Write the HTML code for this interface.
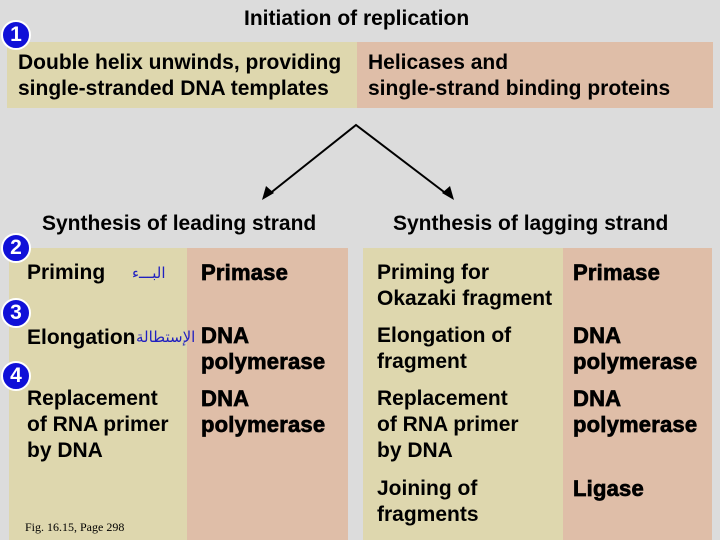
<!DOCTYPE html>
<html><head><style>
body{margin:0;width:720px;height:540px;background:#dcdcdc;position:relative;overflow:hidden;font-family:"Liberation Sans",sans-serif;}
div{position:absolute;}
.t{background:#ded7ae;}
.p{background:#dfbea8;}
.h{font-weight:bold;font-size:21px;color:#000;line-height:26px;white-space:nowrap;}
.b{font-weight:bold;font-size:22px;line-height:26px;white-space:nowrap;-webkit-text-stroke:0.7px #000;letter-spacing:0.2px;}
.n{width:26px;height:26px;border-radius:50%;background:#1010d8;border:2px solid #fff;color:#fff;font-weight:bold;font-size:21px;line-height:26px;text-align:center;box-sizing:content-box;}
.ar{color:#2020c0;font-size:15px;font-family:"DejaVu Sans",sans-serif;}
</style></head><body>
<div class="h" style="left:244px;top:6px;">Initiation of replication</div>
<div class="t" style="left:7px;top:42px;width:350px;height:66px;"></div>
<div class="p" style="left:357px;top:42px;width:356px;height:66px;"></div>
<div class="h" style="left:18px;top:50px;">Double helix unwinds, providing<br>single-stranded DNA templates</div>
<div class="h" style="left:368px;top:50px;">Helicases and<br>single-strand binding proteins</div>
<div class="n" style="left:1px;top:20px;">1</div>
<svg style="position:absolute;left:0;top:0" width="720" height="540">
<polyline points="268,195 356,125 448,195" fill="none" stroke="#000" stroke-width="2"/>
<polygon points="262,200 266,186 274,193" fill="#000"/>
<polygon points="454,200 442,193 450,186" fill="#000"/>
</svg>
<div class="h" style="left:42px;top:211px;">Synthesis of leading strand</div>
<div class="h" style="left:393px;top:211px;">Synthesis of lagging strand</div>
<div class="t" style="left:9px;top:248px;width:178px;height:292px;"></div>
<div class="p" style="left:187px;top:248px;width:161px;height:292px;"></div>
<div class="t" style="left:363px;top:248px;width:200px;height:292px;"></div>
<div class="p" style="left:563px;top:248px;width:149px;height:292px;"></div>
<div class="n" style="left:1px;top:233px;">2</div>
<div class="n" style="left:1px;top:298px;">3</div>
<div class="n" style="left:1px;top:361px;">4</div>
<div class="h" style="left:27px;top:260px;">Priming</div>
<div class="ar" style="left:132px;top:264px;">البـــء</div>
<div class="h" style="left:27px;top:325px;">Elongation</div>
<div class="ar" style="left:136px;top:328px;">الإستطالة</div>
<div class="h" style="left:27px;top:386px;">Replacement<br>of RNA primer<br>by DNA</div>
<div class="b" style="left:201px;top:260px;">Primase</div>
<div class="b" style="left:201px;top:323px;">DNA<br>polymerase</div>
<div class="b" style="left:201px;top:386px;">DNA<br>polymerase</div>
<div class="h" style="left:377px;top:260px;">Priming for<br>Okazaki fragment</div>
<div class="h" style="left:377px;top:323px;">Elongation of<br>fragment</div>
<div class="h" style="left:377px;top:386px;">Replacement<br>of RNA primer<br>by DNA</div>
<div class="h" style="left:377px;top:476px;">Joining of<br>fragments</div>
<div class="b" style="left:573px;top:260px;">Primase</div>
<div class="b" style="left:573px;top:323px;">DNA<br>polymerase</div>
<div class="b" style="left:573px;top:386px;">DNA<br>polymerase</div>
<div class="b" style="left:573px;top:476px;">Ligase</div>
<div style="left:25px;top:520px;font-family:'Liberation Serif',serif;font-size:12px;white-space:nowrap;">Fig. 16.15, Page 298</div>
</body></html>
